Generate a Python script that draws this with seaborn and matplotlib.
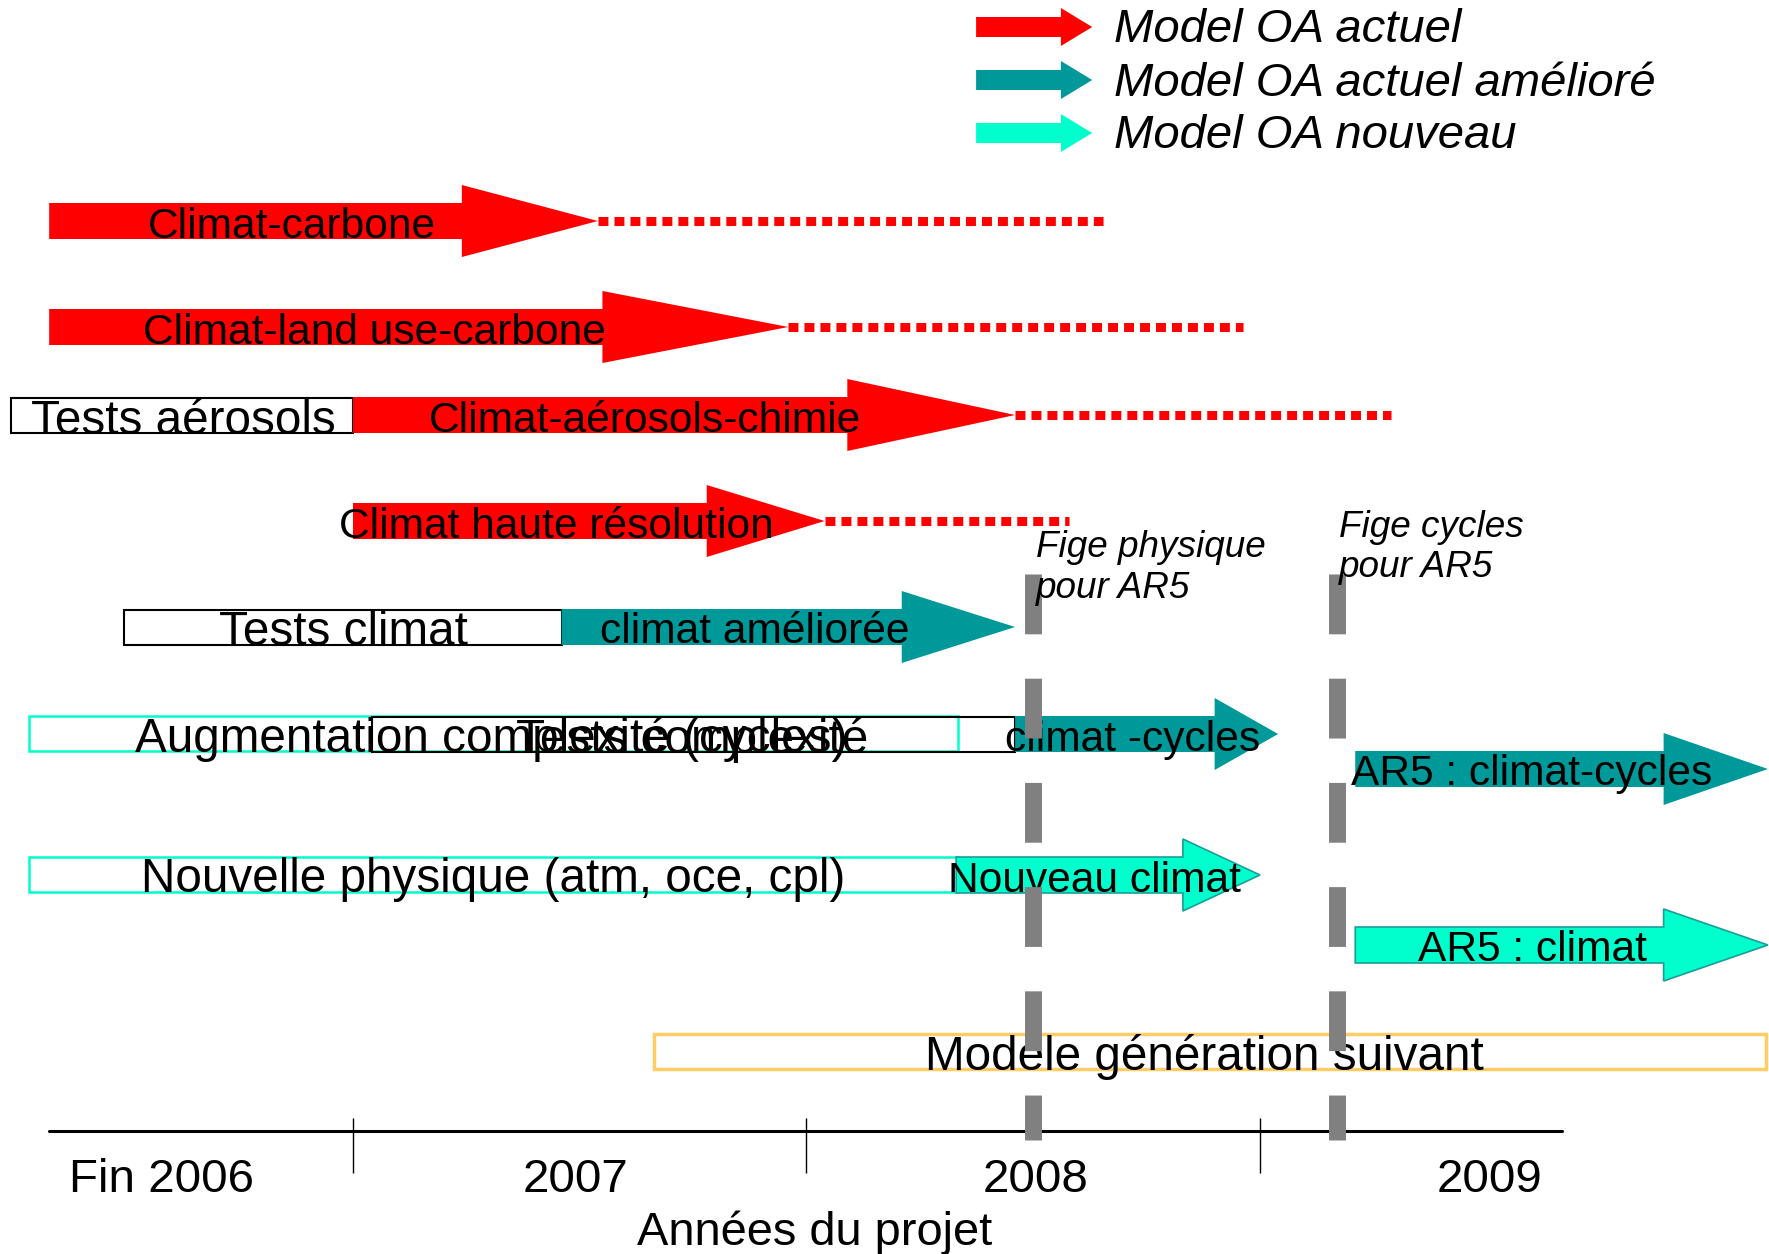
import pandas as pd
import matplotlib.pyplot as plt
from matplotlib.patches import Polygon, Rectangle
import seaborn as sns

# Flèches : début du corps, début de la pointe, pointe, ligne (axe vertical inversé)
taches = ["Climat-carbone", "Climat-land use-carbone", "Climat-aérosols-chimie",
          "Climat haute résolution", "climat améliorée", "climat -cycles",
          "AR5 : climat-cycles", "Nouveau climat", "AR5 : climat"]
debut = [2006.33, 2006.33, 2007.00, 2007.00, 2007.46, 2008.46, 2009.21, 2008.33, 2009.21]
tete = [2007.24, 2007.55, 2008.09, 2007.78, 2008.21, 2008.90, 2009.89, 2008.83, 2009.89]
pointe = [2007.54, 2007.96, 2008.46, 2008.04, 2008.46, 2009.04, 2010.12, 2009.00, 2010.12]
ligne = [2.21, 3.27, 4.15, 5.21, 6.27, 7.34, 7.69, 8.75, 9.45]
modele = ["actuel", "actuel", "actuel", "actuel", "ameliore", "ameliore", "ameliore",
          "nouveau", "nouveau"]
texte_x = [2006.865, 2007.047, 2007.644, 2007.448, 2007.886, 2008.718, 2009.600,
           2008.634, 2009.600]

# Prolongations en pointillés des quatre premières flèches
prolongation_fin = [2008.654, 2008.962, 2009.289, 2008.579]

# Cadres (phases de tests)
cadres = ["Tests aérosols", "Tests climat", "Augmentation complexité (cycles)",
          "Tests complexité", "Nouvelle physique (atm, oce, cpl)", "Modele génération suivant"]
cadre_debut = [2006.246, 2006.495, 2006.286, 2007.042, 2006.286, 2007.664]
cadre_fin = [2007.00, 2007.46, 2008.334, 2008.46, 2008.334, 2010.116]
cadre_ligne = [4.155, 6.27, 7.335, 7.345, 8.745, 10.51]
cadre_type = ["test", "test", "nouveau", "test", "nouveau", "suivant"]
cadre_texte_x = [2006.625, 2006.978, 2007.304, 2007.748, 2007.309, 2008.877]

# Jalons
jalons_x = [2008.50, 2009.17]
jalons_texte = ["Fige physique\npour AR5", "Fige cycles\npour AR5"]
jalons_texte_y = [5.66, 5.455]

# Axe des années
annees = ["Fin 2006", "2007", "2008", "2009"]
annees_x = [2006.577, 2007.490, 2008.506, 2009.505]
limites_annees = [2007, 2008, 2009]
axe_debut, axe_fin = 2006.33, 2009.666

# Légende
legende = ["Model OA actuel", "Model OA actuel amélioré", "Model OA nouveau"]
legende_modele = ["actuel", "ameliore", "nouveau"]
legende_y = [0.27, 0.80, 1.33]

couleurs = {"actuel": "#FF0000", "ameliore": "#009999", "nouveau": "#00FFCC"}
contours = {"actuel": "none", "ameliore": "none", "nouveau": "#1A9E98"}
cadre_couleurs = {"test": "black", "nouveau": "#00FFCC", "suivant": "#FFCC66"}
cadre_lw = {"test": 1.5, "nouveau": 1.8, "suivant": 2.5}

# petit décalage vertical des textes
dy = 0.055

sns.set_theme(style="white")
plt.rcParams['font.family'] = ['Liberation Sans', 'DejaVu Sans']
plt.rcParams['text.color'] = 'black'

fig = plt.figure(figsize=(17.69, 12.54), dpi=100)
ax = fig.add_axes([0, 0, 1, 1])
ax.set_xlim(2006.2216, 2010.1224)
ax.set_ylim(12.54, 0)
ax.axis("off")


def fleche(ax, x0, xh, xt, y, couleur, contour, corps=0.36, pointe_h=0.72, z=3):
    pts = [(x0, y - corps / 2), (xh, y - corps / 2), (xh, y - pointe_h / 2), (xt, y),
           (xh, y + pointe_h / 2), (xh, y + corps / 2), (x0, y + corps / 2)]
    lw = 1.2 if contour != "none" else 0
    ax.add_patch(Polygon(pts, closed=True, facecolor=couleur, edgecolor=contour,
                         linewidth=lw, zorder=z))


# Pointillés rouges
pointilles = pd.DataFrame({
    "x": [v for i in range(4) for v in (pointe[i], prolongation_fin[i])],
    "y": [ligne[i] for i in range(4) for _ in range(2)],
    "tache": [taches[i] for i in range(4) for _ in range(2)],
})
sns.lineplot(data=pointilles, x="x", y="y", units="tache", estimator=None, sort=False,
             color="#FF0000", linewidth=6.5, linestyle=(0, (1.1, 0.67)),
             dash_capstyle="butt", ax=ax, zorder=1)

# Cadres
for nom, x0, x1, y, t, tx in zip(cadres, cadre_debut, cadre_fin, cadre_ligne, cadre_type,
                                 cadre_texte_x):
    ax.add_patch(Rectangle((x0, y - 0.175), x1 - x0, 0.35, facecolor="none",
                           edgecolor=cadre_couleurs[t], linewidth=cadre_lw[t], zorder=2))
    ax.text(tx, y + dy, nom, ha="center", va="center", fontsize=34.3, zorder=4)

# Flèches
for nom, x0, xh, xt, y, m, tx in zip(taches, debut, tete, pointe, ligne, modele, texte_x):
    fleche(ax, x0, xh, xt, y, couleurs[m], contours[m])
    ax.text(tx, y + dy, nom, ha="center", va="center", fontsize=30.6, zorder=4)

# Jalons en tirets gris
jalons = pd.DataFrame({
    "x": [x for x in jalons_x for _ in range(2)],
    "y": [5.74, 11.40] * len(jalons_x),
    "jalon": [j for j in jalons_texte for _ in range(2)],
})
sns.lineplot(data=jalons, x="x", y="y", units="jalon", estimator=None, sort=False,
             orient="y", color="#808080", linewidth=12.2, linestyle=(0, (3.53, 2.62)),
             dash_capstyle="butt", ax=ax, zorder=5)
for x, txt, y in zip(jalons_x, jalons_texte, jalons_texte_y):
    ax.text(x + 0.005, y + 0.02, txt, ha="left", va="center", fontsize=26.6, style="italic",
            linespacing=1.19, zorder=6)

# Axe des années
ax.plot([axe_debut, axe_fin], [11.31, 11.31], color="black", linewidth=2.2, zorder=4)
ax.vlines(limites_annees, 11.18, 11.73, color="black", linewidth=1.0, zorder=4)
for nom, x in zip(annees, annees_x):
    ax.text(x, 11.77 + 0.03, nom, ha="center", va="center", fontsize=34.2)
ax.text(2008.017, 12.30 + 0.03, "Années du projet", ha="center", va="center", fontsize=33.8)

# Légende
for nom, m, y in zip(legende, legende_modele, legende_y):
    fleche(ax, 2008.374, 2008.561, 2008.630, y, couleurs[m], "none", corps=0.20, pointe_h=0.38)
    ax.text(2008.678, y + 0.035, nom, ha="left", va="center", fontsize=34, style="italic")

ax.set_xlabel("")
ax.set_ylabel("")
fig.savefig("out.png", dpi=100)
